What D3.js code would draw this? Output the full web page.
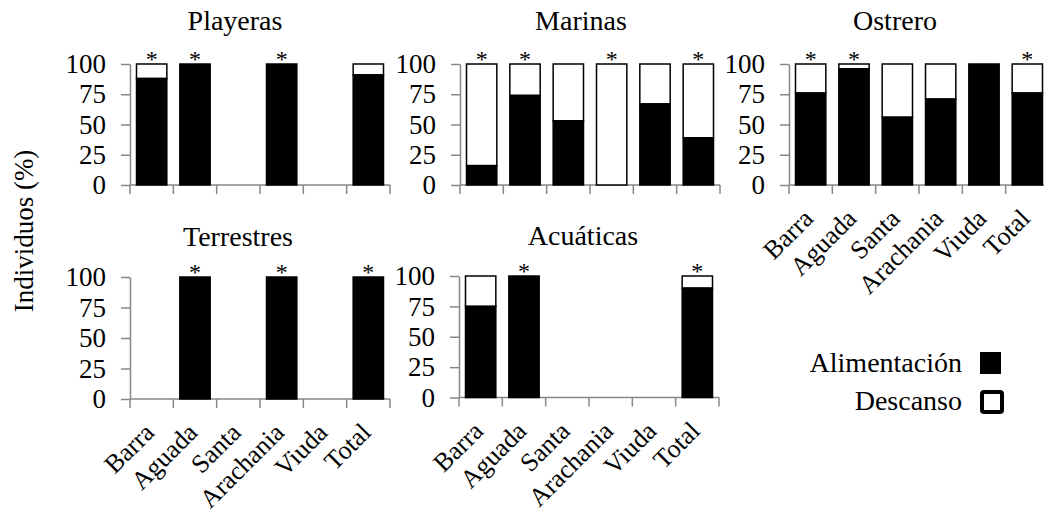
<!DOCTYPE html>
<html>
<head>
<meta charset="utf-8">
<script src="https://cdn.jsdelivr.net/npm/d3@7"></script>
<style>
  html, body { margin: 0; padding: 0; background: #fff; }
  svg { display: block; font-family: "Liberation Serif", "Times New Roman", serif; }
</style>
</head>
<body>
<svg id="chart" width="1044" height="515"></svg>
<script>
// Sites (categories) shared by all panels
const categories = ["Barra", "Aguada", "Santa", "Arachania", "Viuda", "Total"];
const yTicks = [0, 25, 50, 75, 100];

// Percentage of individuals feeding (Alimentación) and resting (Descanso); null = no data
const playerasAlim   = [88, 99, null, 100, null, 91];
const playerasDesc   = [12, 1, null, 0, null, 9];
const playerasStar   = [true, true, false, true, false, false];

const marinasAlim    = [16, 74, 53, 0, 67, 39];
const marinasDesc    = [84, 26, 47, 100, 33, 61];
const marinasStar    = [true, true, false, true, false, true];

const ostreroAlim    = [76, 96, 56, 71, 100, 76];
const ostreroDesc    = [24, 4, 44, 29, 0, 24];
const ostreroStar    = [true, true, false, false, false, true];

const terrestresAlim = [null, 100, null, 100, null, 100];
const terrestresDesc = [null, 0, null, 0, null, 0];
const terrestresStar = [false, true, false, true, false, true];

const acuaticasAlim  = [75, 100, null, null, null, 90];
const acuaticasDesc  = [25, 0, null, null, null, 10];
const acuaticasStar  = [false, true, false, false, false, true];

const legendLabels = ["Alimentación", "Descanso"];

// Panel layout: axis origin, plot height and title placement
const panels = [
  { title: "Playeras",   alim: playerasAlim,   desc: playerasDesc,   star: playerasStar,
    x0: 130, top: 64,  bottom: 185,   tx: 235, ty: 30,  labels: false },
  { title: "Marinas",    alim: marinasAlim,    desc: marinasDesc,    star: marinasStar,
    x0: 460, top: 64,  bottom: 185,   tx: 581, ty: 30,  labels: false },
  { title: "Ostrero",    alim: ostreroAlim,    desc: ostreroDesc,    star: ostreroStar,
    x0: 789, top: 64,  bottom: 185,   tx: 895, ty: 30,  labels: true },
  { title: "Terrestres", alim: terrestresAlim, desc: terrestresDesc, star: terrestresStar,
    x0: 130, top: 277, bottom: 399,   tx: 238, ty: 246, labels: true },
  { title: "Acuáticas",  alim: acuaticasAlim,  desc: acuaticasDesc,  star: acuaticasStar,
    x0: 459, top: 276, bottom: 397.5, tx: 583, ty: 245, labels: true }
];

const svg = d3.select("#chart");
const serif = "Liberation Serif, Times New Roman, serif";
const axisColor = "#878787";
const plotW = 260;

panels.forEach(p => {
  const g = svg.append("g");
  const x = d3.scaleBand().domain(categories)
    .range([p.x0, p.x0 + plotW]).paddingInner(0.3).paddingOuter(0.15);
  const y = d3.scaleLinear().domain([0, 100]).range([p.bottom, p.top]);
  const step = x.step();

  // title
  g.append("text").attr("x", p.tx).attr("y", p.ty)
    .attr("text-anchor", "middle").attr("font-size", 28).text(p.title);

  // y axis
  const ya = g.append("g").attr("transform", `translate(${p.x0},0)`)
    .call(d3.axisLeft(y).tickValues(yTicks).tickSize(9).tickPadding(15).tickSizeOuter(0));
  ya.attr("font-family", serif);
  ya.select(".domain").attr("stroke", axisColor).attr("stroke-width", 1.5);
  ya.selectAll(".tick line").attr("stroke", axisColor).attr("stroke-width", 1.5);
  ya.selectAll(".tick text").attr("font-size", 27).attr("fill", "#000");

  // x axis: baseline and tick marks between categories
  g.append("line").attr("x1", p.x0).attr("x2", p.x0 + plotW)
    .attr("y1", p.bottom).attr("y2", p.bottom)
    .attr("stroke", axisColor).attr("stroke-width", 1.5);
  const bounds = d3.range(categories.length + 1).map(i => p.x0 + i * step);
  g.selectAll(".xt").data(bounds).join("line")
    .attr("x1", d => d).attr("x2", d => d)
    .attr("y1", p.bottom).attr("y2", p.bottom + 9)
    .attr("stroke", axisColor).attr("stroke-width", 1.5);

  if (p.labels) {
    g.selectAll(".xl").data(categories).join("text")
      .attr("font-size", 26).attr("text-anchor", "end")
      .attr("transform", d => `translate(${x(d) + x.bandwidth() / 2 + 4},${p.bottom + 35}) rotate(-45)`)
      .text(d => d);
  }

  const rows = categories.map((c, i) => ({ c, a: p.alim[i], d: p.desc[i], s: p.star[i] }))
    .filter(r => r.a !== null);

  // Descanso (white) segment stacked above Alimentación
  g.selectAll(".desc").data(rows.filter(r => r.d > 0)).join("rect")
    .attr("x", r => x(r.c)).attr("width", x.bandwidth())
    .attr("y", r => y(r.a + r.d)).attr("height", r => y(r.a) - y(r.a + r.d))
    .attr("fill", "#fff").attr("stroke", "#000").attr("stroke-width", 1.5);

  // Alimentación (black) segment
  g.selectAll(".alim").data(rows.filter(r => r.a > 0)).join("rect")
    .attr("x", r => x(r.c)).attr("width", x.bandwidth())
    .attr("y", r => y(r.a)).attr("height", r => y(0) - y(r.a))
    .attr("fill", "#000").attr("stroke", "#000").attr("stroke-width", 1.5);

  // significance markers
  g.selectAll(".star").data(rows.filter(r => r.s)).join("text")
    .attr("x", r => x(r.c) + x.bandwidth() / 2).attr("y", y(100) + 3)
    .attr("text-anchor", "middle").attr("font-size", 24).attr("fill", "#000").text("*");
});

// shared y-axis title
svg.append("text")
  .attr("transform", "translate(33,231) rotate(-90)")
  .attr("text-anchor", "middle").attr("font-size", 27)
  .text("Individuos (%)");

// legend
const legend = svg.append("g");
legend.append("text").attr("x", 962).attr("y", 372)
  .attr("text-anchor", "end").attr("font-size", 28).text(legendLabels[0]);
legend.append("rect").attr("x", 980).attr("y", 352).attr("width", 21).attr("height", 22)
  .attr("fill", "#000");
legend.append("text").attr("x", 962).attr("y", 410)
  .attr("text-anchor", "end").attr("font-size", 28).text(legendLabels[1]);
legend.append("rect").attr("x", 982).attr("y", 392).attr("width", 20).attr("height", 20)
  .attr("rx", 2).attr("fill", "#fff").attr("stroke", "#000").attr("stroke-width", 4);
</script>
</body>
</html>
